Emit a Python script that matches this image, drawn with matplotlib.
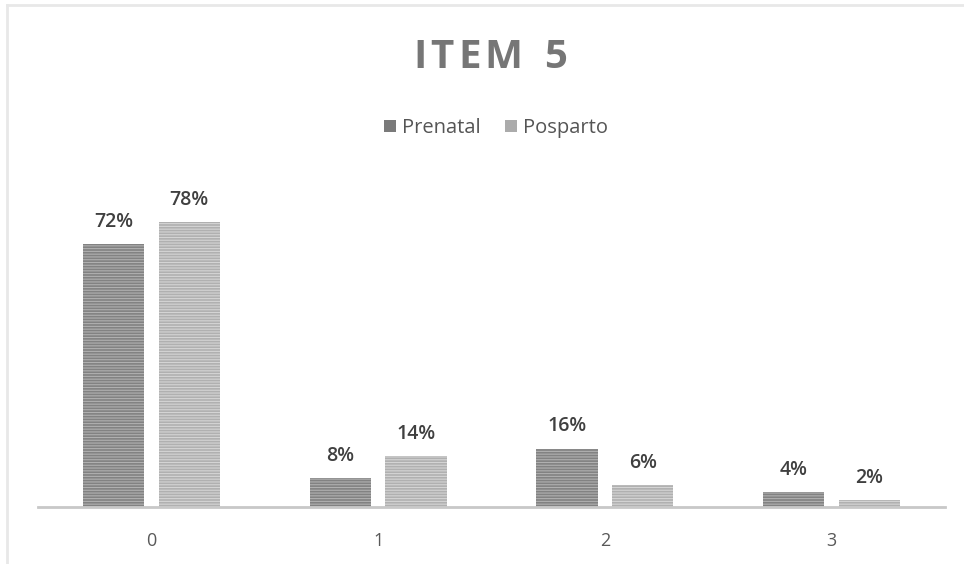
import matplotlib.pyplot as plt
import numpy as np
from matplotlib.lines import Line2D
from matplotlib.patches import Patch

categorias = ['0', '1', '2', '3']
prenatal = [72, 8, 16, 4]
posparto = [78, 14, 6, 2]

plt.rcParams['font.family'] = ['Open Sans', 'DejaVu Sans']
plt.rcParams['hatch.linewidth'] = 0.8

fig = plt.figure(figsize=(9.64, 5.64), dpi=100)
W, H = 964, 564
# area de dibujo en pixeles
ax = fig.add_axes([38 / W, (H - 507) / H, (945 - 38) / W, 329 / H])

x = np.arange(len(categorias))
ancho = 0.27
desp = 0.167

b1 = ax.bar(x - desp, prenatal, ancho, color='#828282', edgecolor='#b0b0b0',
            hatch='------', linewidth=0)
b2 = ax.bar(x + desp, posparto, ancho, color='#b0b0b0', edgecolor='#d4d4d4',
            hatch='------', linewidth=0)

for barras, vals in ((b1, prenatal), (b2, posparto)):
    for b, v in zip(barras, vals):
        ax.text(b.get_x() + b.get_width() / 2, v + 3.3, f'{v}%',
                ha='center', va='bottom', fontsize=14, fontweight='semibold',
                color='#404040')

ax.set_xlim(-0.5, 3.5)
ax.set_ylim(0, 90)
ax.set_xticks(x)
ax.set_xticklabels(categorias, fontsize=13, color='#595959')
ax.tick_params(axis='x', length=0, pad=18)
ax.set_yticks([])
for s in ['top', 'right', 'left']:
    ax.spines[s].set_visible(False)
ax.spines['bottom'].set_color('#c8c8c8')
ax.spines['bottom'].set_linewidth(2)

# titulo con espaciado entre letras
titulo = 'ITEM 5'
r = fig.canvas.get_renderer()
estilo = dict(fontsize=29, fontweight='bold', color='#767676', va='center', ha='left')
anchos = []
for c in titulo:
    t = fig.text(0, 0, c if c != ' ' else 'I', **estilo)
    anchos.append(t.get_window_extent(r).width)
    t.remove()
extra = 4
total = sum(anchos) + extra * (len(titulo) - 1)
xpos = 490 - total / 2
for c, w in zip(titulo, anchos):
    if c != ' ':
        fig.text(xpos / W, 1 - 58 / H, c, **estilo)
    xpos += w + extra

handles = [Patch(facecolor='#7a7a7a', label='Prenatal'),
           Patch(facecolor='#ababab', label='Posparto')]
fig.legend(handles=handles, loc='center', bbox_to_anchor=(496 / W, 1 - 128 / H),
           ncol=2, frameon=False, fontsize=14.5, handlelength=0.6,
           handleheight=0.6, handletextpad=0.3, columnspacing=1.2,
           labelcolor='#555555')

# marco del grafico
fig.add_artist(Line2D([7 / W, 7 / W], [0, 1 - 5 / H], color='#e8e8e8', lw=2))
fig.add_artist(Line2D([7 / W, 1], [1 - 5 / H, 1 - 5 / H], color='#e8e8e8', lw=2))

fig.savefig('out.png', dpi=100)
